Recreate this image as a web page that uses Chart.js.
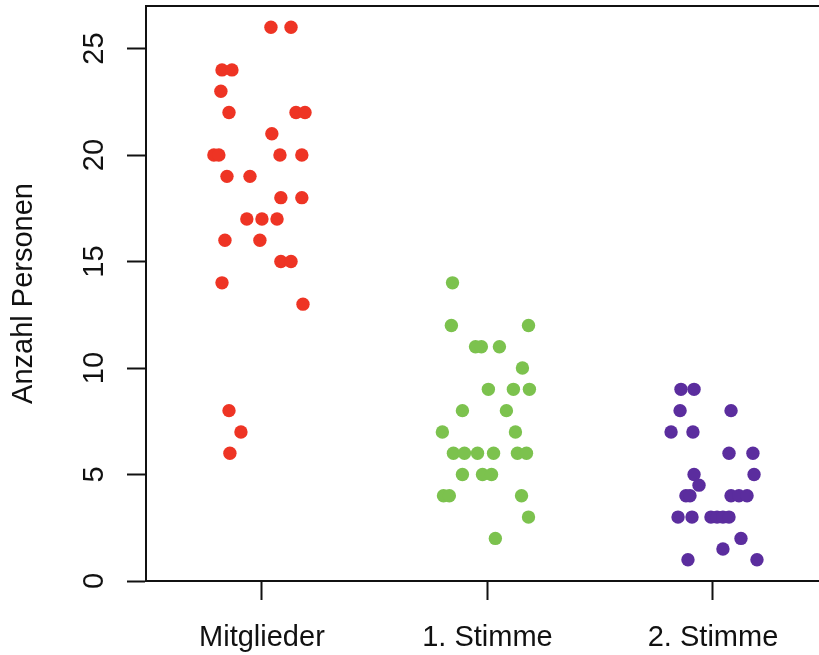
<!DOCTYPE html>
<html>
<head>
<meta charset="utf-8">
<script src="https://cdn.jsdelivr.net/npm/chart.js@4/dist/chart.umd.min.js"></script>
<style>
  body { margin: 0; background: #fff; }
  #wrap { width: 819px; height: 655px; }
</style>
</head>
<body>
<div id="wrap"><canvas id="chart" width="819" height="655"></canvas></div>
<script>
const categories = ['Mitglieder', '1. Stimme', '2. Stimme'];
const yTicks = [0, 5, 10, 15, 20, 25];

// values per group, with the horizontal jitter
const mitglieder = [26, 26, 24, 24, 23, 22, 22, 22, 21, 20, 20, 20, 20, 19, 19, 18, 18, 17, 17, 17, 16, 16, 15, 15, 14, 13, 8, 7, 6];
const mitgliederJitter = [0.040, 0.129, -0.177, -0.133, -0.182, -0.146, 0.151, 0.191, 0.044, -0.213, -0.191, 0.080, 0.177, -0.155, -0.053, 0.084, 0.177, -0.067, 0, 0.067, -0.164, -0.009, 0.084, 0.129, -0.177, 0.182, -0.146, -0.093, -0.142];

const stimme1 = [14, 12, 12, 11, 11, 11, 10, 9, 9, 9, 8, 8, 7, 7, 6, 6, 6, 6, 6, 6, 5, 5, 5, 4, 4, 4, 3, 2];
const stimme1Jitter = [-0.155, -0.160, 0.182, -0.053, -0.027, 0.053, 0.155, 0.004, 0.115, 0.186, -0.111, 0.084, -0.200, 0.124, -0.151, -0.102, -0.044, 0.027, 0.133, 0.173, -0.111, -0.022, 0.018, -0.195, -0.169, 0.151, 0.182, 0.035];

const stimme2 = [9, 9, 8, 8, 7, 7, 6, 6, 5, 5, 4.5, 4, 4, 4, 4, 4, 3, 3, 3, 3, 3, 3, 2, 1.5, 1, 1];
const stimme2Jitter = [-0.142, -0.084, -0.146, 0.080, -0.186, -0.089, 0.071, 0.177, -0.084, 0.182, -0.062, -0.120, -0.102, 0.080, 0.115, 0.151, -0.155, -0.093, -0.009, 0.018, 0.044, 0.071, 0.124, 0.044, -0.111, 0.195];

const colors = ['#ee3424', '#7cc24e', '#5b2d9e'];
const font = '"Liberation Sans", Arial, sans-serif';

const toPoints = (vals, jit, pos) => vals.map((v, i) => ({ x: pos + jit[i], y: v }));

const groups = [
  toPoints(mitglieder, mitgliederJitter, 1),
  toPoints(stimme1, stimme1Jitter, 2),
  toPoints(stimme2, stimme2Jitter, 3)
];

// top box line + rotated y tick labels, R style
const rBox = {
  id: 'rBox',
  afterDraw(chart) {
    const { ctx, chartArea, scales } = chart;
    ctx.save();
    ctx.strokeStyle = '#111';
    ctx.lineWidth = 2;
    ctx.beginPath();
    ctx.moveTo(chartArea.left, chartArea.top);
    ctx.lineTo(chartArea.right, chartArea.top);
    ctx.stroke();

    ctx.fillStyle = '#111';
    ctx.font = '29px ' + font;
    ctx.textAlign = 'center';
    ctx.textBaseline = 'alphabetic';
    yTicks.forEach(v => {
      const y = scales.y.getPixelForValue(v);
      ctx.save();
      ctx.translate(103, y);
      ctx.rotate(-Math.PI / 2);
      ctx.fillText(String(v), 0, 0);
      ctx.restore();
    });
    ctx.restore();
  }
};

new Chart(document.getElementById('chart'), {
  type: 'scatter',
  data: {
    datasets: groups.map((pts, i) => ({
      label: categories[i],
      data: pts,
      backgroundColor: colors[i],
      borderWidth: 0,
      pointRadius: 6.7,
      pointHoverRadius: 6.7
    }))
  },
  options: {
    responsive: false,
    animation: false,
    layout: { autoPadding: false, padding: { top: 6, right: 0, left: 0, bottom: 0 } },
    plugins: {
      legend: { display: false },
      tooltip: { enabled: false }
    },
    scales: {
      x: {
        type: 'linear',
        min: 0.486,
        max: 3.47,
        afterBuildTicks: (s) => { s.ticks = categories.map((c, i) => ({ value: i + 1 })); },
        afterFit: (s) => { s.height = 74; s.paddingLeft = 0; s.paddingRight = 0; },
        ticks: {
          callback: (v) => categories[v - 1],
          font: { family: font, size: 29 },
          color: '#111',
          padding: 21,
          maxRotation: 0,
          autoSkip: false
        },
        grid: { drawOnChartArea: false, drawTicks: true, tickLength: 19, tickColor: '#111', tickWidth: 2 },
        border: { display: true, color: '#111', width: 2 }
      },
      y: {
        min: 0,
        max: 27,
        afterBuildTicks: (s) => { s.ticks = yTicks.map(v => ({ value: v })); },
        afterFit: (s) => { s.width = 146; s.paddingTop = 0; s.paddingBottom = 0; },
        ticks: { display: false },
        title: {
          display: true,
          text: 'Anzahl Personen',
          font: { family: font, size: 29 },
          color: '#111',
          padding: { top: 7, bottom: 0 }
        },
        grid: { drawOnChartArea: false, drawTicks: true, tickLength: 19, tickColor: '#111', tickWidth: 2 },
        border: { display: true, color: '#111', width: 2 }
      }
    }
  },
  plugins: [rBox]
});
</script>
</body>
</html>
